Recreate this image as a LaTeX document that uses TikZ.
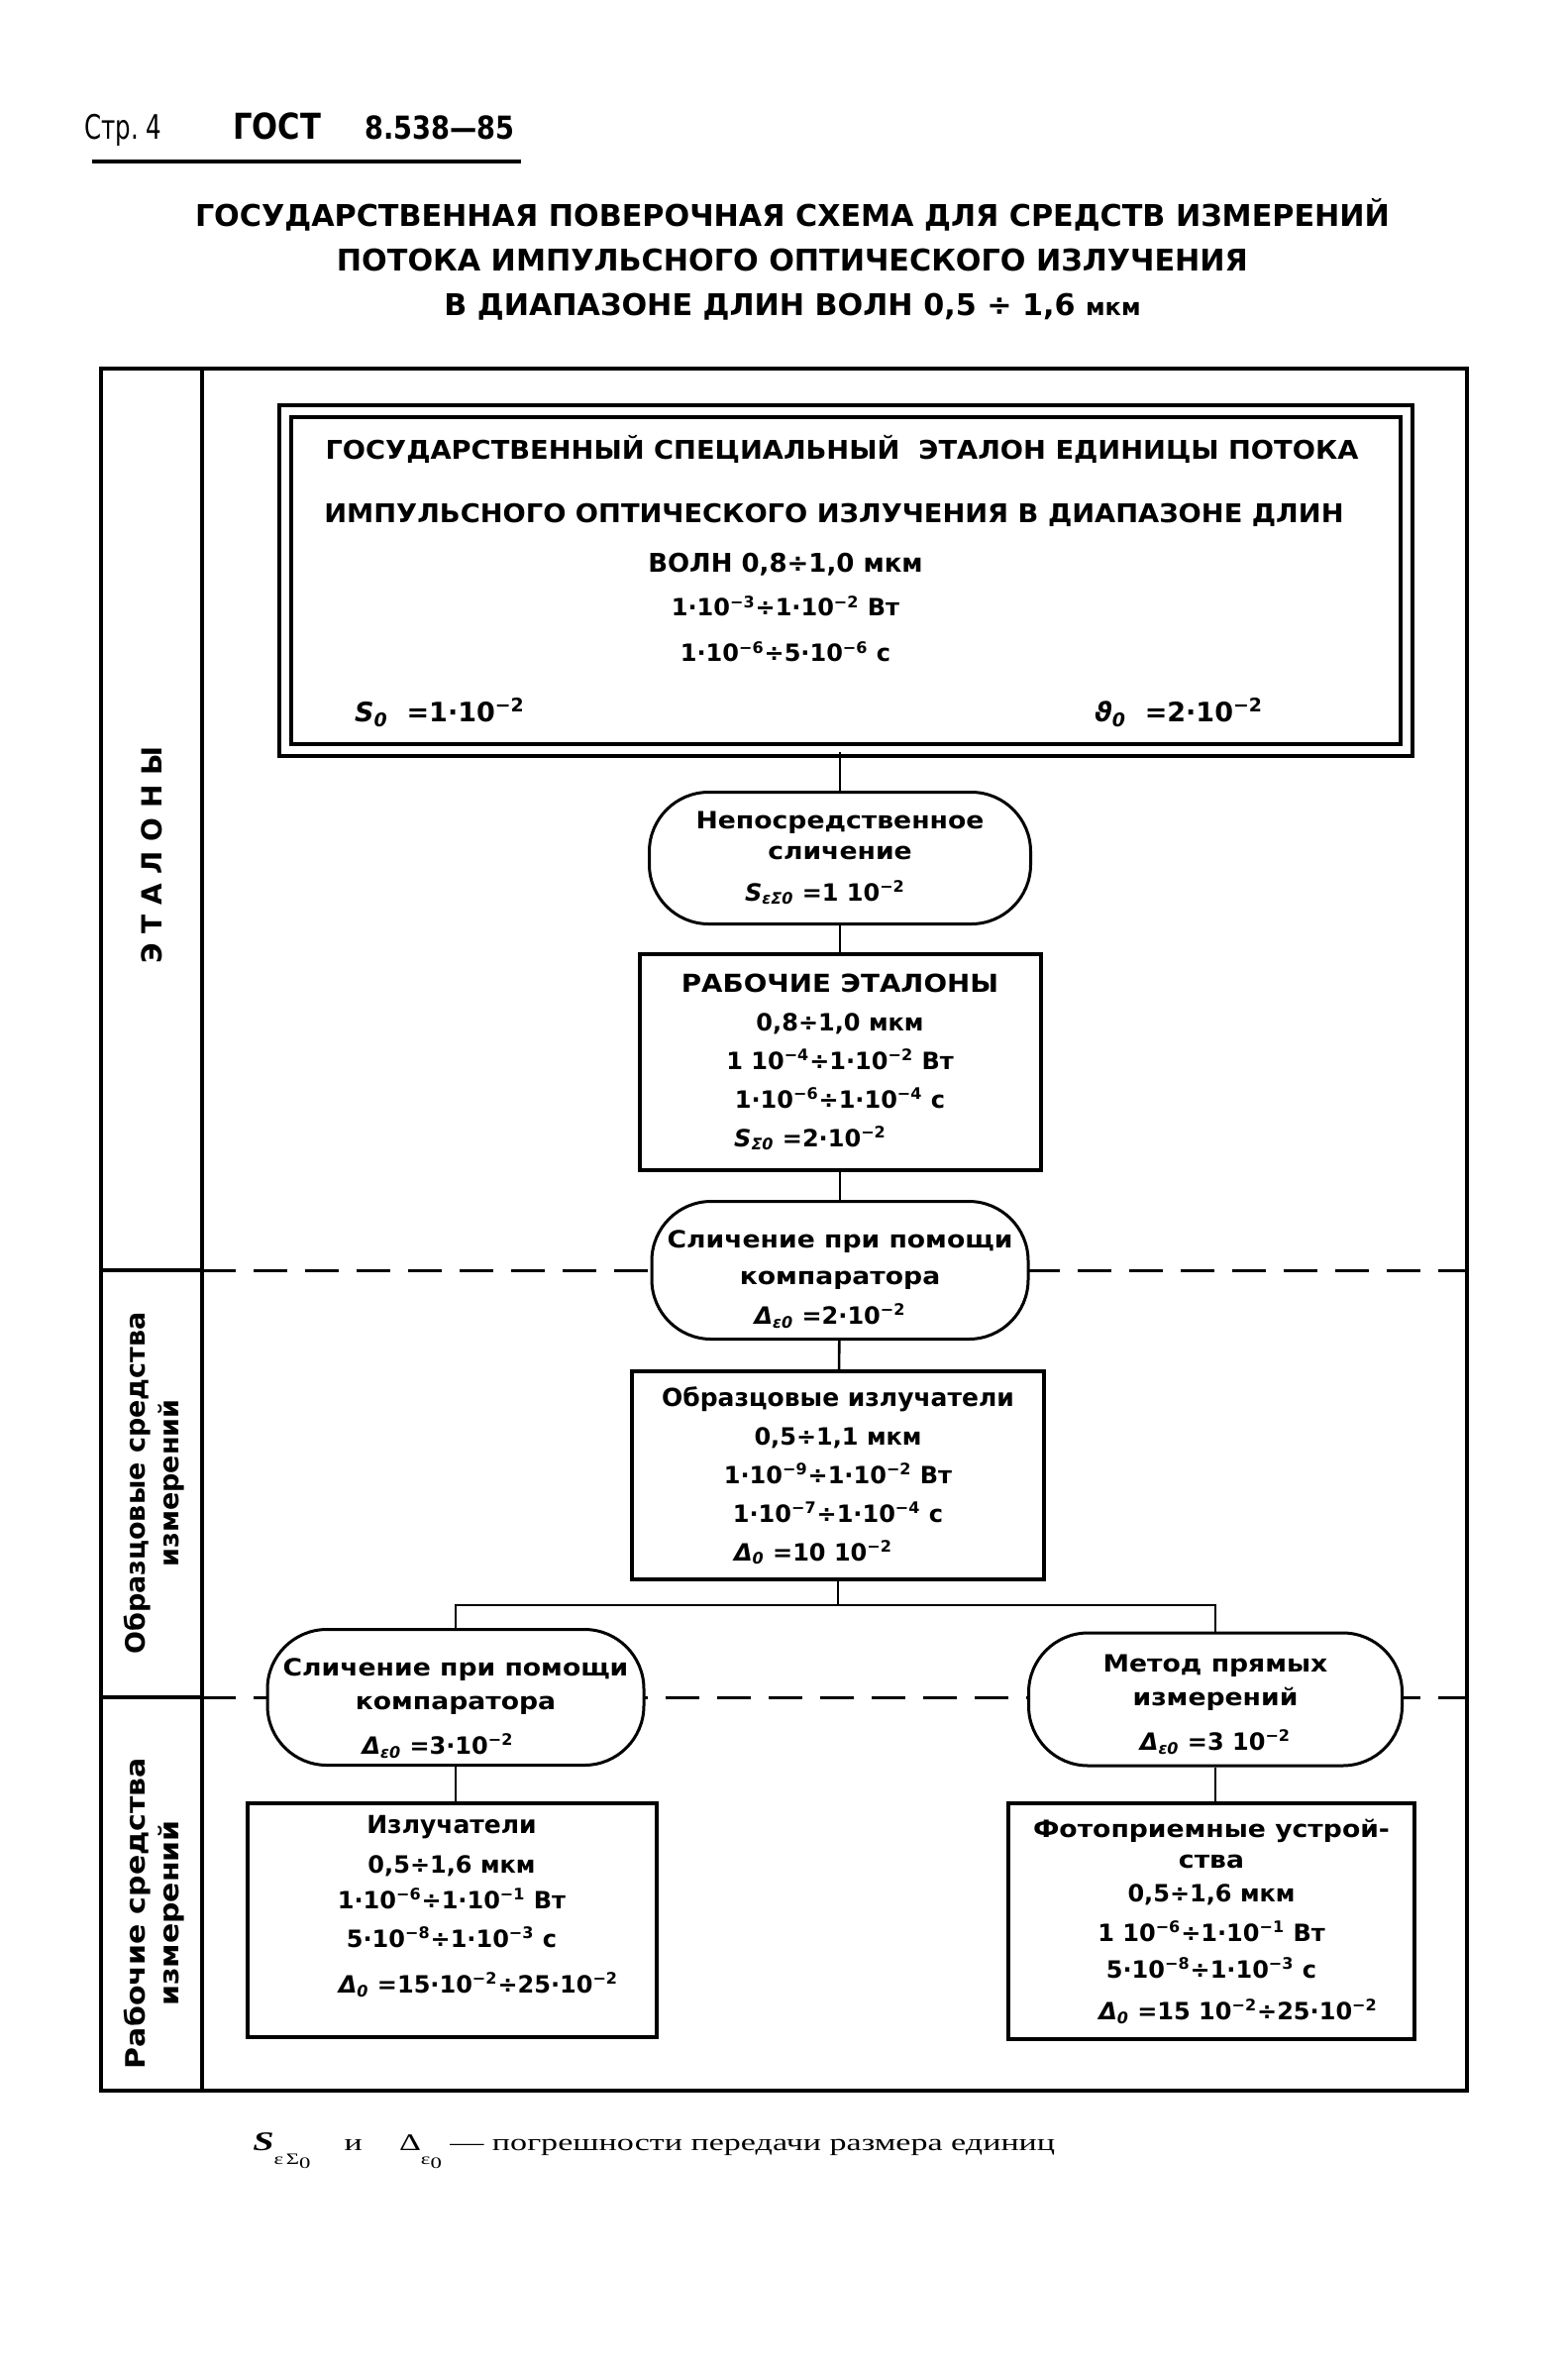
\documentclass[tikz,border=0pt]{standalone}
\usepackage{fontspec}
\setmainfont{DejaVu Sans}
\newfontfamily\widefont{DejaVu Sans}[FakeStretch=1.05]
\newfontfamily\wordfont{DejaVu Sans}[FakeStretch=1.11]
\newfontfamily\narrowfont{DejaVu Sans}[FakeStretch=0.85]
\newfontfamily\condfont{DejaVu Sans}[FakeStretch=0.72]
\newfontfamily\serfont{Liberation Serif}[FakeStretch=1.42]
\newcommand{\dec}[1]{10\textsuperscript{#1}}
\newcommand{\sym}[2]{\textit{#1}\textsubscript{\textit{#2}}}
\newcommand{\lowsub}[2]{\raisebox{-#1}{\fontsize{8}{8}\selectfont #2}}

\tikzset{
  outline/.style={line width=2pt},
  conn/.style={line width=1.3pt},
  tierline/.style={line width=1.5pt, dash pattern=on 17pt off 9pt},
  stdbox/.style={draw, line width=2pt, fill=white, align=center, inner sep=0pt,
    font=\bfseries\fontsize{12}{19.5}\selectfont},
  methbox/.style={draw, line width=1.5pt, fill=white, rounded corners=30pt, align=center,
    inner sep=0pt, font=\bfseries\fontsize{12}{17}\selectfont},
  sidelbl/.style={rotate=90, align=center, font=\bfseries\fontsize{13.5}{17}\selectfont}
}

\begin{document}
\begin{tikzpicture}[x=0.5pt, y=-0.5pt]
\useasboundingbox (0,0) rectangle (1583,2397);

% header and title
\node[anchor=west, inner sep=0pt, font=\narrowfont\fontsize{18}{20}\selectfont] (page) at (85,131)
  {{\condfont\fontsize{17}{20}\selectfont Стр.~4}\hspace{36pt}{\bfseries ГОСТ}\hspace{22pt}%
   {\bfseries\fontsize{16}{20}\selectfont 8.538—85}};
\draw[line width=2pt] (93,163) -- (526,163);
\node[align=center, font=\bfseries\fontsize{15.1}{22.5}\selectfont] (title) at (800,262)
  {ГОСУДАРСТВЕННАЯ ПОВЕРОЧНАЯ СХЕМА ДЛЯ СРЕДСТВ ИЗМЕРЕНИЙ\\
   ПОТОКА ИМПУЛЬСНОГО ОПТИЧЕСКОГО ИЗЛУЧЕНИЯ\\
   В ДИАПАЗОНЕ ДЛИН ВОЛН 0,5 ÷ 1,6 {\fontsize{12}{12}\selectfont мкм}};

% frame, columns, levels
\draw[outline] (102,372) rectangle (1481,2110);
\draw[outline] (204,372) -- (204,2110);
\draw[outline] (102,1282) -- (204,1282);
\draw[outline] (102,1713) -- (204,1713);
\draw[tierline] (204,1282) -- (1481,1282);
\draw[tierline] (204,1713) -- (1481,1713);

\node[sidelbl, font=\bfseries\fontsize{14}{16}\selectfont] (lblet) at (153,863) {Э\ Т\ А\ Л\ О\ Н\ Ы};
\node[sidelbl] (lblsample) at (156,1497) {Образцовые средства\\измерений};
\node[sidelbl, font=\wordfont\bfseries\fontsize{13.5}{17}\selectfont] (lblwork) at (156,1931)
  {Рабочие средства\\измерений};

% state standard
\node[draw, line width=2pt, double, double distance=3.8pt, minimum width=566pt,
  minimum height=171pt, inner sep=0pt] (etalon) at (854,586) {};
\node[align=center, inner sep=0pt, font=\bfseries\fontsize{12}{22}\selectfont] (etname) at (850,554)
  {{\widefont\fontsize{13}{22}\selectfont ГОСУДАРСТВЕННЫЙ СПЕЦИАЛЬНЫЙ\ \ ЭТАЛОН ЕДИНИЦЫ ПОТОКА}\\[10pt]
   \hspace*{-8pt}{\widefont\fontsize{13}{22}\selectfont ИМПУЛЬСНОГО ОПТИЧЕСКОГО ИЗЛУЧЕНИЯ В ДИАПАЗОНЕ ДЛИН}\\[3pt]
   \hspace*{-57pt}{\fontsize{13}{22}\selectfont ВОЛН 0,8÷1,0 мкм}\\
   \hspace*{-57pt}1·\dec{−3}÷1·\dec{−2} Вт\\[1pt]
   \hspace*{-57pt}1·\dec{−6}÷5·\dec{−6} с};
\node[font=\bfseries\fontsize{13.5}{15}\selectfont] (szero) at (444,719) {\sym{S}{0}\ \ =1·\dec{−2}};
\node[font=\bfseries\fontsize{13.5}{15}\selectfont] (thzero) at (1190,719)
  {\textit{ϑ}\textsubscript{\textit{0}}\ \ =2·\dec{−2}};

% standards
\node[methbox, minimum width=192.5pt, minimum height=66.5pt, font=\bfseries\fontsize{12}{15.5}\selectfont]
  (direct) at (848,866)
  {{\wordfont Непосредственное}\\{\wordfont сличение}\\[5.5pt]\hspace*{-15pt}\sym{S}{εΣ0} =1 \dec{−2}};
\node[stdbox, minimum width=202.5pt, minimum height=109pt] (work) at (848,1072)
  {{\wordfont\fontsize{12.5}{19.5}\selectfont РАБОЧИЕ ЭТАЛОНЫ}\\0,8÷1,0 мкм\\1 \dec{−4}÷1·\dec{−2} Вт\\
   1·\dec{−6}÷1·\dec{−4} с\\\hspace*{-30pt}\sym{S}{Σ0} =2·\dec{−2}};
\node[methbox, minimum width=190pt, minimum height=69.5pt, font=\bfseries\fontsize{12}{18.5}\selectfont]
  (cmpC) at (848,1282)
  {\rule{0pt}{18pt}{\wordfont Сличение при помощи}\\{\wordfont компаратора}\\[1.5pt]
   \hspace*{-10pt}\sym{Δ}{ε0} =2·\dec{−2}};

% reference instruments
\node[stdbox, minimum width=208pt, minimum height=105pt] (sample) at (846,1489)
  {{\fontsize{12.5}{19.5}\selectfont Образцовые излучатели}\\0,5÷1,1 мкм\\1·\dec{−9}÷1·\dec{−2} Вт\\
   1·\dec{−7}÷1·\dec{−4} с\\\hspace*{-25pt}\sym{Δ}{0} =10 \dec{−2}};
\coordinate (fork) at (846,1620);
\node[methbox, minimum width=190pt, minimum height=68.5pt] (cmpL) at (460,1713)
  {\rule{0pt}{20pt}{\wordfont Сличение при помощи}\\{\wordfont компаратора}\\[5.5pt]
   \hspace*{-18pt}\sym{Δ}{ε0} =3·\dec{−2}};
\node[methbox, minimum width=188.5pt, minimum height=67pt] (meth) at (1227,1715)
  {\rule{0pt}{14pt}{\wordfont Метод прямых}\\{\wordfont измерений}\\[5.5pt]\sym{Δ}{ε0} =3 \dec{−2}};

% working instruments
\node[stdbox, minimum width=206.5pt, minimum height=118pt, text depth=16pt] (emit) at (456,1938)
  {{\fontsize{12.5}{19.5}\selectfont Излучатели}\\[0.5pt]0,5÷1,6 мкм\\[-1.7pt]1·\dec{−6}÷1·\dec{−1} Вт\\
   5·\dec{−8}÷1·\dec{−3} с\\[3.5pt]\hspace*{27pt}\sym{Δ}{0} =15·\dec{−2}÷25·\dec{−2}};
\node[stdbox, minimum width=205pt, minimum height=119pt, font=\bfseries\fontsize{12}{18.6}\selectfont]
  (photo) at (1223,1939)
  {{\wordfont Фотоприемные устрой-}\\[-3pt]{\wordfont ства}\\[-1.6pt]0,5÷1,6 мкм\\[1.4pt]
   1 \dec{−6}÷1·\dec{−1} Вт\\5·\dec{−8}÷1·\dec{−3} с\\[2.4pt]
   \hspace*{27pt}\sym{Δ}{0} =15 \dec{−2}÷25·\dec{−2}};

% connections
\draw[conn] (direct.north) -- (direct.north |- etalon.south);
\draw[conn] (direct) -- (work);
\draw[conn] (work) -- (cmpC);
\draw[conn] (cmpC) -- (sample);
\draw[conn] (sample) -- (fork);
\draw[conn] (cmpL.north) |- (fork) -| (meth.north);
\draw[conn] (cmpL.south) -- (cmpL.south |- emit.north);
\draw[conn] (meth.south) -- (meth.south |- photo.north);

% note
\node[anchor=base west, inner sep=0pt, font=\serfont\fontsize{12}{14}\selectfont] (note) at (255,2170)
  {{\fontsize{13.5}{14}\selectfont\textbf{\textit{S}}}\lowsub{7pt}{ε\,Σ\raisebox{-2pt}{0}}\hspace{17pt}и\hspace{1.2em}
   Δ\lowsub{7pt}{ε\raisebox{-2pt}{0}}~— погрешности передачи размера единиц};
\end{tikzpicture}
\end{document}
